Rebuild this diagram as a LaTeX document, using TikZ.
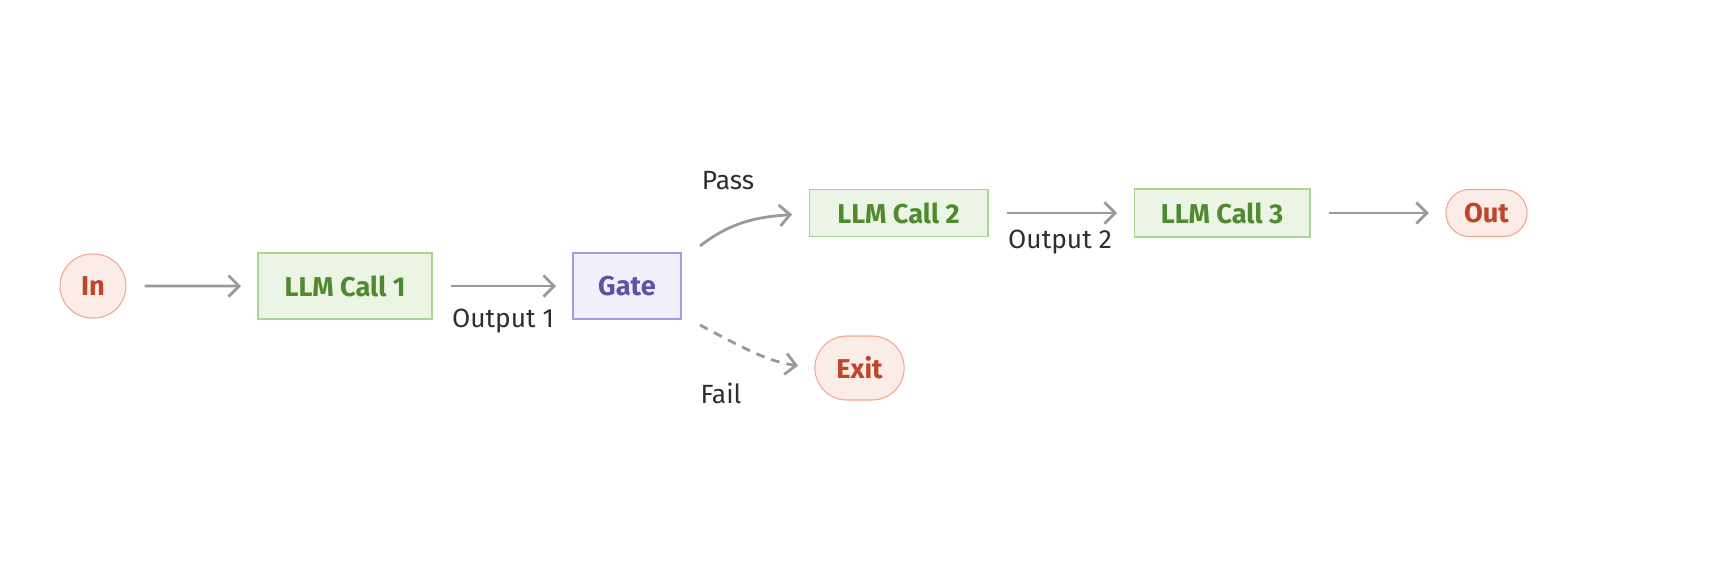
\documentclass[tikz,border=0pt]{standalone}
\usepackage{fontspec}
\setmainfont{Fira Sans}
\usetikzlibrary{arrows.meta,shapes.misc}

\definecolor{callfill}{HTML}{EBF4E5}
\definecolor{calldraw}{HTML}{A9D591}
\definecolor{calltext}{HTML}{4F8A2F}
\definecolor{endfill}{HTML}{FBECE7}
\definecolor{enddraw}{HTML}{EFA692}
\definecolor{endtext}{HTML}{BF4428}
\definecolor{gatefill}{HTML}{F0EFFA}
\definecolor{gatedraw}{HTML}{A19BE0}
\definecolor{gatetext}{HTML}{5B53A6}
\definecolor{flowgray}{HTML}{9A9A94}
\definecolor{labeltext}{HTML}{2E2E2E}

\tikzset{
  callbox/.style={rectangle, draw=calldraw, fill=callfill, text=calltext, line width=0.6pt,
    font=\bfseries\fontsize{15.5}{18}\selectfont},
  endbox/.style={rounded rectangle, draw=enddraw, fill=endfill, text=endtext, line width=0.6pt,
    font=\bfseries\fontsize{15.5}{18}\selectfont},
  gatebox/.style={rectangle, draw=gatedraw, fill=gatefill, text=gatetext, line width=0.6pt,
    font=\bfseries\fontsize{15.5}{18}\selectfont},
  flow/.style={draw=flowgray, line width=1.6pt, -{Straight Barb[length=6pt,width=12pt,line width=1.6pt]},
    shorten <=0.36cm, shorten >=0.33cm},
  edgelabel/.style={text=labeltext, font=\fontsize{15}{18}\selectfont}
}

\begin{document}
\begin{tikzpicture}[x=0.02cm, y=-0.02cm]
        \useasboundingbox (0,0) rectangle (1736,562);

        % Nodes
        \node[endbox, minimum width=1.46cm, minimum height=1.28cm, inner xsep=2pt] (in) at (93,286) {In};
        \node[callbox, minimum width=3.48cm, minimum height=1.32cm] (call1) at (345,286) {LLM Call 1};
        \node[gatebox, minimum width=2.16cm, minimum height=1.32cm] (gate) at (627,286) {Gate};
        \node[callbox, minimum width=3.58cm, minimum height=0.94cm] (call2) at (898.5,213) {LLM Call 2};
        \node[callbox, minimum width=3.52cm, minimum height=0.96cm] (call3) at (1222,213) {LLM Call 3};
        \node[endbox, minimum width=1.86cm, minimum height=0.94cm] (out) at (1486.5,213) {Out};
        \node[endbox, minimum width=2.02cm, minimum height=1.28cm] (exit) at (859.5,368) {Exit};

        \coordinate (passstart) at (700,246);
        \coordinate (failstart) at (700,325);

        % Edges
        \draw[flow] (in) -- (call1);
        \draw[flow] (call1) -- (gate);
        \draw[flow] (call2) -- (call3);
        \draw[flow] (call3) -- (out);
        \draw[flow, shorten <=0pt] (passstart) to[out=38, in=185] (call2.west);
        \draw[flow, shorten <=0pt, dashed, dash pattern=on 5pt off 4pt] (failstart) to[out=-28, in=172] (exit.west);

        % Labels
        \node[edgelabel] (output1) at (503,321) {Output 1};
        \node[edgelabel] (output2) at (1060,242) {Output 2};
        \node[edgelabel] (pass) at (728,181) {Pass};
        \node[edgelabel] (fail) at (721,393) {Fail};
    \end{tikzpicture}
\end{document}
